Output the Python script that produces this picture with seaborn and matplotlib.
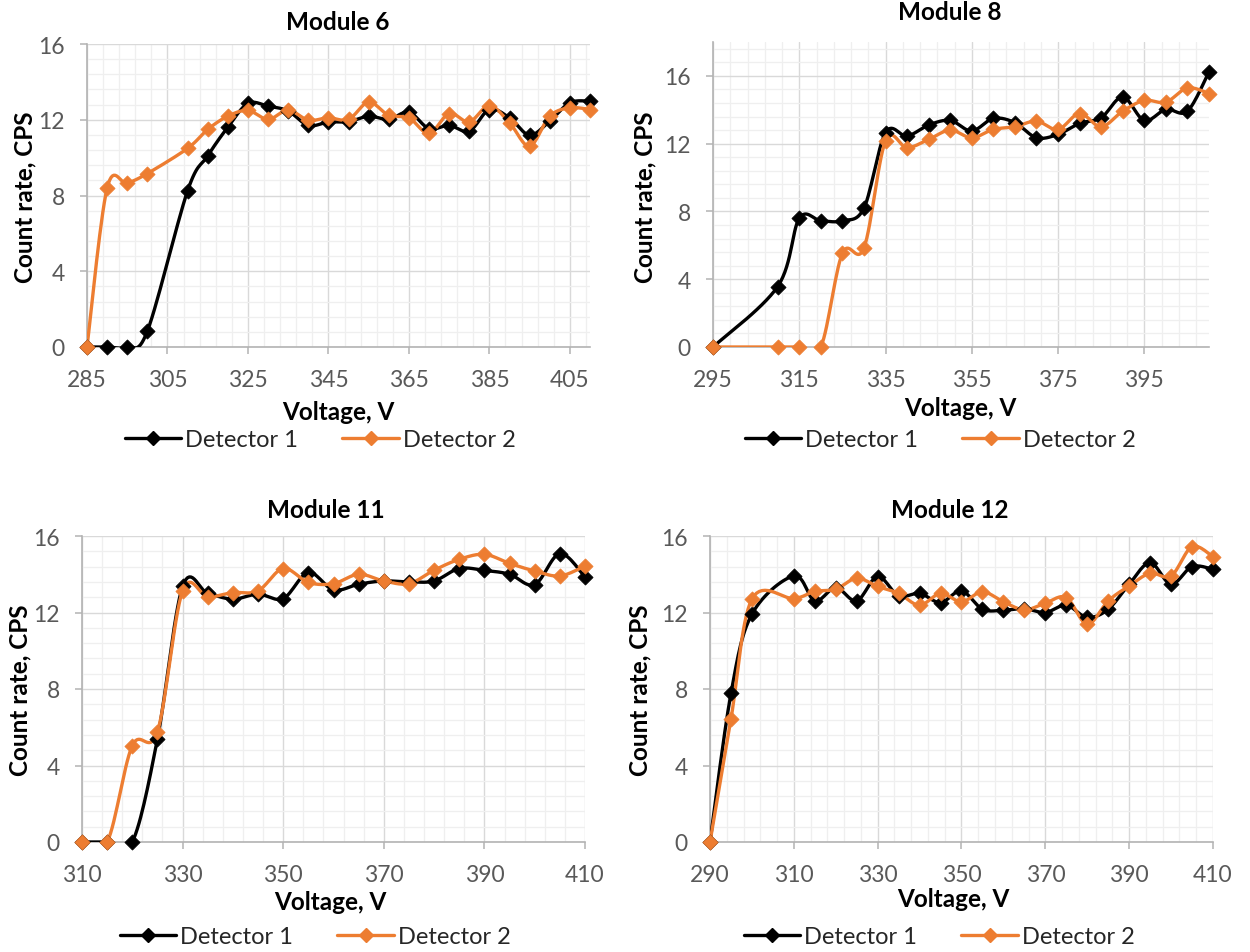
import numpy as np
import pandas as pd
import matplotlib
matplotlib.use("Agg")
import matplotlib.pyplot as plt
from matplotlib.lines import Line2D
from matplotlib.ticker import MultipleLocator
import seaborn as sns

# ---- data ----
m6_v = [285, 290, 295, 300, 310, 315, 320, 325, 330, 335, 340, 345, 350, 355, 360,
        365, 370, 375, 380, 385, 390, 395, 400, 405, 410]
m6_d1 = [0, 0, 0, 0.84, 8.25, 10.09, 11.61, 12.86, 12.72, 12.46, 11.70, 11.88, 11.90,
         12.19, 12.02, 12.40, 11.53, 11.70, 11.40, 12.54, 12.10, 11.19, 11.93, 12.90, 12.98]
m6_d2 = [0, 8.39, 8.65, 9.16, 10.49, 11.49, 12.19, 12.49, 12.02, 12.51, 11.98, 12.10, 12.02,
         12.93, 12.23, 12.10, 11.28, 12.33, 11.89, 12.75, 11.84, 10.61, 12.19, 12.63, 12.54]

m8_v = [295, 310, 315, 320, 325, 330, 335, 340, 345, 350, 355, 360, 365, 370, 375,
        380, 385, 390, 395, 400, 405, 410]
m8_d1 = [0, 3.57, 7.59, 7.45, 7.45, 8.20, 12.65, 12.45, 13.10, 13.37, 12.75, 13.49,
         13.24, 12.35, 12.55, 13.20, 13.53, 14.75, 13.37, 14.02, 13.92, 16.24]
m8_d2 = [0, 0, 0, 0, 5.53, 5.84, 12.16, 11.76, 12.25, 12.80, 12.35, 12.84, 13.00,
         13.33, 12.84, 13.78, 13.00, 13.92, 14.55, 14.45, 15.29, 14.96]

m11_v = [310, 315, 320, 325, 330, 335, 340, 345, 350, 355, 360, 365, 370, 375, 380,
         385, 390, 395, 400, 405, 410]
m11_d1 = [0, 0, 0, 5.39, 13.36, 13.00, 12.70, 12.96, 12.73, 14.09, 13.18, 13.48, 13.65,
          13.60, 13.65, 14.30, 14.20, 14.00, 13.46, 15.08, 13.86]
m11_d2 = [0, 0, 5.04, 5.77, 13.13, 12.82, 13.04, 13.13, 14.30, 13.57, 13.51, 14.00, 13.65,
          13.51, 14.21, 14.78, 15.04, 14.57, 14.17, 13.91, 14.43]

m12_v = [290, 295, 300, 310, 315, 320, 325, 330, 335, 340, 345, 350, 355, 360, 365,
         370, 375, 380, 385, 390, 395, 400, 405, 410]
m12_d1 = [0, 7.77, 11.91, 13.91, 12.61, 13.30, 12.61, 13.88, 12.87, 13.00, 12.52, 13.13,
          12.17, 12.12, 12.20, 12.00, 12.38, 11.74, 12.17, 13.48, 14.60, 13.48, 14.40, 14.26]
m12_d2 = [0, 6.43, 12.70, 12.73, 13.10, 13.22, 13.79, 13.36, 13.00, 12.38, 13.00, 12.56,
          13.08, 12.56, 12.14, 12.49, 12.78, 11.39, 12.61, 13.39, 14.05, 13.91, 15.44, 14.92]

titles = ["Module 6", "Module 8", "Module 11", "Module 12"]
series = [(m6_v, m6_d1, m6_d2), (m8_v, m8_d1, m8_d2),
          (m11_v, m11_d1, m11_d2), (m12_v, m12_d1, m12_d2)]
names = ["Detector 1", "Detector 2"]
colors = ["#000000", "#ED7D31"]

sns.set_theme(style="white")
plt.rcParams["font.family"] = ["Lato", "DejaVu Sans"]

W, H = 1250, 953
fig = plt.figure(figsize=(W / 100, H / 100), dpi=100)


def box(l, r, t, b):
    return [l / W, 1 - b / H, (r - l) / W, (b - t) / H]


def fx(x):
    return x / W


def fy(y):
    return 1 - y / H


def smooth(x, y, n=16):
    # excel-style smoothed line (bezier through the points)
    p = np.column_stack([x, y]).astype(float)
    q = np.vstack([p[0], p, p[-1]])
    t = np.linspace(0, 1, n)[:, None]
    out = []
    for i in range(len(p) - 1):
        p0, p1, p2, p3 = q[i], q[i + 1], q[i + 2], q[i + 3]
        c1 = p1 + (p2 - p0) / 6
        c2 = p2 - (p3 - p1) / 6
        seg = (1 - t) ** 3 * p1 + 3 * (1 - t) ** 2 * t * c1 + 3 * (1 - t) * t ** 2 * c2 + t ** 3 * p2
        out.append(seg if i == 0 else seg[1:])
    return np.vstack(out)


# layout in pixels: axes boxes, text centers
boxes = [(87, 590, 45, 348), (713, 1209, 43, 348), (82, 585, 537, 843), (710, 1213, 537, 843)]
xlims = [(285, 410), (295, 410), (310, 410), (290, 410)]
ylims = [16, 18, 16, 16]
title_pos = [(338, 22), (950, 13), (326, 510), (950, 510)]
xlab_pos = [(338, 413), (960, 409), (330, 903), (953, 900)]
ylab_pos = [(25, 197), (645, 197), (20, 690), (640, 690)]
leg_pos = [(320, 441), (940, 441), (315, 938), (939, 938)]

grey_txt = "#595959"

for k in range(4):
    l, r, t, b = boxes[k]
    ax = fig.add_axes(box(l, r, t, b))
    v, d1, d2 = series[k]
    x0, x1 = xlims[k]

    for data, c in zip([d1, d2], colors):
        sm = smooth(v, data)
        line_df = pd.DataFrame({"V": sm[:, 0], "CPS": sm[:, 1]})
        sns.lineplot(data=line_df, x="V", y="CPS", ax=ax, color=c, lw=2.4,
                     sort=False, estimator=None, zorder=3)
        pt_df = pd.DataFrame({"V": v, "CPS": data})
        sns.scatterplot(data=pt_df, x="V", y="CPS", ax=ax, color=c, marker="D",
                        s=60, edgecolor=c, linewidth=0.5, zorder=4, clip_on=False)

    ax.set_xlim(x0, x1)
    ax.set_ylim(0, ylims[k])
    ax.set_xticks(np.arange(x0, x1 + 0.1, 20))
    ax.set_xticks(np.arange(x0, x1 + 0.1, 4), minor=True)
    ax.set_yticks(np.arange(0, 16.1, 4))
    ax.yaxis.set_minor_locator(MultipleLocator(0.8))

    ax.grid(which="major", color="#d9d9d9", lw=1.0)
    ax.grid(which="minor", color="#efefef", lw=0.9)
    ax.set_axisbelow(True)

    for s in ["top", "right"]:
        ax.spines[s].set_visible(False)
    for s in ["left", "bottom"]:
        ax.spines[s].set_color("#b3b3b3")
        ax.spines[s].set_linewidth(1.2)

    ax.tick_params(axis="both", which="major", labelsize=16.5, labelcolor=grey_txt,
                   length=5, color="#b3b3b3", width=1.1, left=True, bottom=True)
    ax.tick_params(axis="x", which="major", pad=11)
    ax.tick_params(axis="y", which="major", pad=11)
    ax.tick_params(which="minor", length=0)
    ax.set_xlabel("")
    ax.set_ylabel("")

    fig.text(fx(title_pos[k][0]), fy(title_pos[k][1]), titles[k], ha="center", va="center",
             fontsize=17.5, fontweight="bold", color="black")
    fig.text(fx(xlab_pos[k][0]), fy(xlab_pos[k][1]), "Voltage, V", ha="center", va="center",
             fontsize=17.5, fontweight="bold", color="black")
    fig.text(fx(ylab_pos[k][0]), fy(ylab_pos[k][1]), "Count rate, CPS", ha="center", va="center",
             rotation=90, fontsize=17.5, fontweight="bold", color="black")

    handles = [Line2D([], [], color=c, lw=2.4, marker="D", markersize=7) for c in colors]
    fig.legend(handles, names, loc="center", bbox_to_anchor=(fx(leg_pos[k][0]), fy(leg_pos[k][1])),
               ncol=2, frameon=False, fontsize=17, handlelength=2.4, handletextpad=0.15,
               columnspacing=1.9, numpoints=1, borderpad=0)

fig.savefig("out.png", dpi=100)
